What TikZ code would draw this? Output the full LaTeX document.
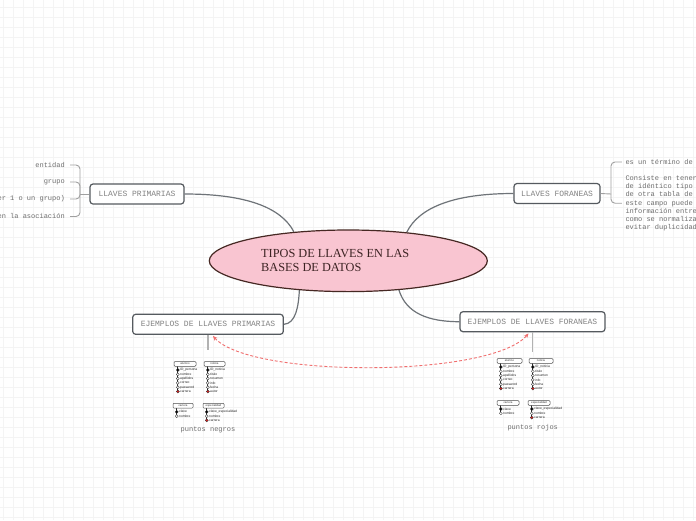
\documentclass[tikz,border=0pt]{standalone}
\usepackage{fontspec}
\setmainfont{Liberation Serif}
\setsansfont{Liberation Sans}
\setmonofont{Liberation Mono}
\usetikzlibrary{arrows.meta,shapes.geometric}
\definecolor{gridc}{RGB}{244,244,244}
\definecolor{connc}{RGB}{110,115,120}
\definecolor{brkc}{RGB}{160,160,160}
\definecolor{boxb}{RGB}{85,90,95}
\definecolor{boxt}{RGB}{130,130,130}
\definecolor{itemt}{RGB}{110,110,110}
\definecolor{ellf}{RGB}{249,197,209}
\definecolor{elld}{RGB}{70,40,35}
\definecolor{ttext}{RGB}{60,35,35}
\definecolor{darr}{RGB}{240,110,110}
\definecolor{bred}{RGB}{225,30,30}
\pgfdeclarelayer{gridlayer}
\pgfdeclarelayer{bglayer}
\pgfsetlayers{gridlayer,bglayer,main}
\tikzset{
  gridl/.style={draw=gridc, line width=0.6pt},
  conn/.style={draw=connc, line width=1.2pt},
  brk/.style={draw=brkc, line width=0.9pt, rounded corners=4pt},
  topic/.style={draw=boxb, fill=white, line width=1.2pt, rounded corners=3pt,
    font=\ttfamily\fontsize{8}{9}\selectfont, text=boxt, minimum height=20pt, inner xsep=0pt},
  item/.style={font=\ttfamily\fontsize{7}{8.3}\selectfont, text=itemt, inner ysep=0pt},
  vline/.style={draw=black!30, line width=1.2pt},
  dasharr/.style={draw=darr, line width=0.9pt, dash pattern=on 3pt off 2pt,
    {Stealth[length=4.5pt,width=4pt]}-{Stealth[length=4.5pt,width=4pt]}},
  tabln/.style={draw=black!85, line width=0.7pt},
  tabhd/.style={draw=black!70, fill=white, rounded corners=1pt, line width=0.5pt,
    minimum height=4.8pt, inner sep=0pt, font=\sffamily\fontsize{2.8}{3}\selectfont, text=black!80},
  tabtx/.style={anchor=west, inner sep=0pt, font=\sffamily\fontsize{3.3}{3.6}\selectfont, text=black!85},
  caption/.style={font=\ttfamily\fontsize{7}{8}\selectfont, text=itemt, inner sep=0pt}
}
% id, x, y, width, title, n rows, rows
\newcommand{\mtab}[7]{%
  \draw[tabln] ({#2+3.3},{#3+4.8}) -- ({#2+3.3},{#3+4.2+4.3*#6});
  \node[tabhd, minimum width=#4pt] (#1h) at ({#2+#4/2},{#3+2.4}) {#5};
  \foreach \c/\t [count=\i] in {#7}{%
    \filldraw[draw=black!80, fill=\c, line width=0.35pt] ({#2+3.8},{#3+4.2+4.3*\i}) circle (1.5pt);
    \node[tabtx] (#1t\i) at ({#2+6},{#3+4.2+4.3*\i}) {\t};
  }%
}
\begin{document}
\begin{tikzpicture}[x=1pt,y=-1pt]
\useasboundingbox (0,0) rectangle (696,520);
\clip (0,0) rectangle (696,520);
\begin{pgfonlayer}{gridlayer}
  \fill[white] (0,0) rectangle (696,520);
  \foreach \gx in {3,13,...,693} \draw[gridl] (\gx,0) -- (\gx,520);
  \foreach \gy in {7,17,...,517} \draw[gridl] (0,\gy) -- (696,\gy);
\end{pgfonlayer}

% central topic
\node[ellipse, draw=elld, fill=ellf, line width=1.2pt, minimum width=278pt,
  minimum height=61.6pt, inner sep=0pt] (c) at (348.3,260.8) {};
\node[anchor=west, align=left, inner sep=0pt, text=ttext,
  font=\fontsize{12.3}{13.4}\selectfont] (title) at (261,260.6)
  {TIPOS DE LLAVES EN LAS\\BASES DE DATOS};

% main topics
\node[topic, minimum width=94pt] (lp) at (137,194) {LLAVES PRIMARIAS};
\node[topic, minimum width=86pt] (lf) at (557,193.5) {LLAVES FORANEAS};
\node[topic, minimum width=150.6pt] (ejp) at (208,324.3) {EJEMPLOS DE LLAVES PRIMARIAS};
\node[topic, minimum width=145pt] (ejf) at (532.5,321.7) {EJEMPLOS DE LLAVES FORANEAS};

% connectors from centre
\begin{pgfonlayer}{bglayer}
  \draw[conn] (lp.east) .. controls (245,194) and (281,207) .. (c.152.6);
  \draw[conn] (lf.west) .. controls (455,193.5) and (419,207) .. (c.26.1);
  \draw[conn] (ejp.east) .. controls (296,323.5) and (298.5,306) .. (c.211);
  \draw[conn] (ejf.west) .. controls (428,321.7) and (406,313) .. (c.330.6);
\end{pgfonlayer}

% left children
\node[item, anchor=east, inner xsep=5pt] (i1) at (70,165) {entidad};
\node[item, anchor=east, inner xsep=5pt] (i2) at (70,182) {grupo};
\node[item, anchor=east, inner xsep=5pt] (i3) at (70,199) {atributo (puede ser 1 o un grupo)};
\node[item, anchor=east, inner xsep=5pt] (i4) at (70,216.5) {relaciones que participan en la asociación};
\coordinate (lb) at (80,194);
\draw[brk] (lp.west) -- (lb);
\draw[brk] (lb) |- (i1.east);
\draw[brk] (lb) |- (i2.east);
\draw[brk] (lb) |- (i3.east);
\draw[brk] (lb) |- (i4.east);

% right children
\node[item, anchor=west, inner xsep=3.5pt] (r1) at (621.8,162) {es un término de bases de datos};
\node[item, anchor=west, inner xsep=3.5pt, align=left] (r2) at (621.8,203.2)
  {Consiste en tener un campo en una tabla\\
   de idéntico tipo al campo clave primaria\\
   de otra tabla de la base de datos,\\
   este campo puede servir para relacionar\\
   información entre tablas, así\\
   como se normaliza la base para\\
   evitar duplicidad de datos.};
\coordinate (rb) at (611,194);
\draw[brk] (lf.east) -- (rb);
\draw[brk] (rb) |- (r1.west);
\draw[brk] (rb) |- (r2.west);

% example images
\coordinate (ejpv) at (208,350);
\coordinate (ejfv) at (532.5,352);
\draw[vline] (ejp.south) -- (ejpv);
\draw[vline] (ejf.south) -- (ejfv);

\mtab{A}{174}{361.5}{22}{alumno}{6}{black/ID\_persona, white/nombre, white/apellidos, white/correo, white/password, bred/carrera}
\mtab{B}{204}{361.5}{21}{noticia}{6}{black/ID\_noticia, white/titulo, white/resumen, white/info, white/fecha, bred/autor}
\mtab{C}{173}{403.3}{20}{carrera}{2}{black/clave, white/nombre}
\mtab{D}{203}{403.3}{21}{especialidad}{3}{black/clave\_especialidad, white/nombre, bred/carrera}
\node[caption] (capn) at (208,430) {puntos negros};

\mtab{E}{497}{358.5}{25}{alumno}{6}{black/ID\_persona, white/nombre, white/apellidos, white/correo, white/password, bred/carrera}
\mtab{F}{529}{358.5}{24}{noticia}{6}{black/ID\_noticia, white/titulo, white/resumen, white/info, white/fecha, bred/autor}
\mtab{G}{497}{400.5}{22}{carrera}{2}{black/clave, white/nombre}
\mtab{H}{528}{400.5}{22}{especialidad}{3}{black/clave\_especialidad, white/nombre, bred/carrera}
\node[caption] (capr) at (532.7,428) {puntos rojos};

% dashed double arrow
\coordinate (ejpa) at (213,336);
\coordinate (ejfa) at (528.5,333.5);
\draw[dasharr] (ejpa) .. controls (250,378) and (490,378) .. (ejfa);
\end{tikzpicture}
\end{document}
